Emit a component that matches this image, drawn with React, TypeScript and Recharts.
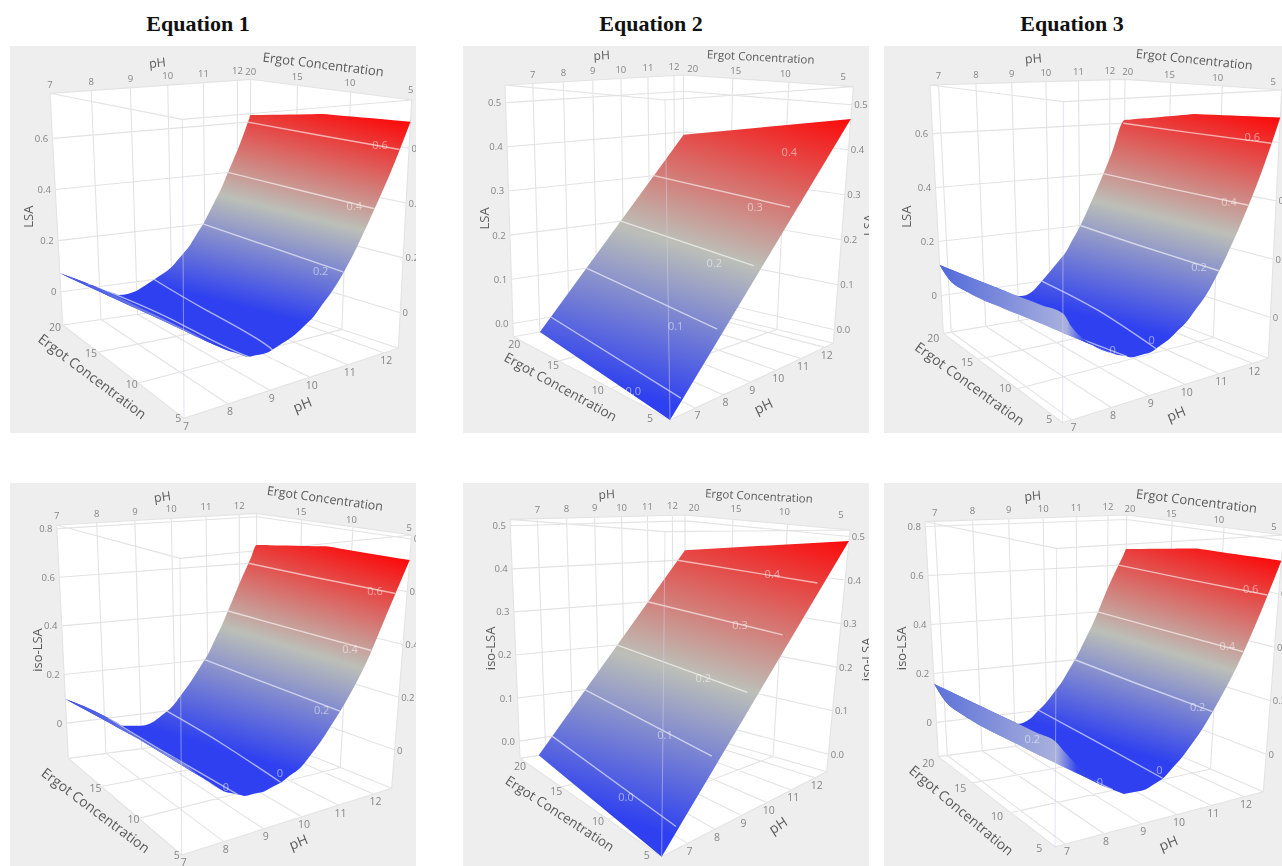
import type { ReactNode } from 'react';
import { Area, ComposedChart, Line, Scatter, XAxis, YAxis } from 'recharts';

/* values: response at ergot 5 / 12.5 / 20 over pH */
const phTicks = [7, 8, 9, 10, 11, 12];
const ergotTicks = [5, 10, 15, 20];
const ticksToSix = [0, 0.2, 0.4, 0.6];
const ticksToEight = [0, 0.2, 0.4, 0.6, 0.8];
const ticksToFive = [0, 0.1, 0.2, 0.3, 0.4, 0.5];

const lsa1Ph = [7, 7.5, 8, 8.5, 9, 9.5, 10, 10.5, 11, 11.5, 12, 12.4];
const lsa1E5 = [0.137, 0.085, 0.037, -0.002, -0.002, 0.022, 0.065, 0.14, 0.245, 0.385, 0.545, 0.697];
const lsa1E12 = [0.105, 0.06, 0.018, -0.012, -0.014, 0.012, 0.055, 0.125, 0.228, 0.36, 0.52, 0.677];
const lsa1E20 = [0.072, 0.034, -0.006, -0.043, -0.036, 0, 0.04, 0.11, 0.21, 0.335, 0.487, 0.628];

const lsa2PhE5 = [6.13, 12.37];
const lsa2PhE20 = [7, 12.37];
const lsa2E5 = [-0.03, 0.468];
const lsa2E20 = [-0.03, 0.393];

const lsa3Ph = [6.78, 7, 7.5, 8, 8.5, 9, 9.5, 10, 10.5, 11, 11.5, 12, 12.5];
const lsa3E5 = [0.173, 0.127, 0.061, 0.022, -0.006, -0.008, 0.016, 0.059, 0.125, 0.225, 0.35, 0.5, 0.686];
const lsa3E12 = [0.143, 0.095, 0.033, -0.008, -0.03, -0.033, -0.01, 0.045, 0.12, 0.22, 0.345, 0.49, 0.667];
const lsa3E20 = [0.113, 0.059, 0, -0.043, -0.057, -0.054, -0.03, 0.03, 0.095, 0.195, 0.32, 0.46, 0.613];

const iso1Ph = [7, 7.5, 8, 8.5, 9, 9.5, 10, 10.5, 11, 11.5, 12, 12.54];
const iso1E5 = [0.157, 0.085, 0.022, -0.012, -0.016, 0.004, 0.043, 0.121, 0.22, 0.345, 0.52, 0.72];
const iso1E12 = [0.128, 0.072, 0.016, -0.026, -0.032, -0.012, 0.035, 0.118, 0.22, 0.352, 0.525, 0.72];
const iso1E20 = [0.099, 0.058, 0.01, -0.04, -0.049, -0.027, 0.028, 0.116, 0.219, 0.356, 0.515, 0.677];

const iso2PhE5 = [6.1, 12.52];
const iso2PhE20 = [6.75, 12.52];
const iso2E5 = [-0.04, 0.49];
const iso2E20 = [-0.04, 0.425];

const iso3Ph = [6.75, 7, 7.5, 8, 8.5, 9, 9.5, 10, 10.5, 11, 11.5, 12, 12.61];
const iso3E5 = [0.198, 0.154, 0.074, 0.016, -0.023, -0.026, -0.005, 0.05, 0.125, 0.225, 0.345, 0.5, 0.724];
const iso3E12 = [0.178, 0.12, 0.045, -0.012, -0.045, -0.047, -0.02, 0.045, 0.125, 0.225, 0.35, 0.505, 0.72];
const iso3E20 = [0.157, 0.087, 0.017, -0.037, -0.063, -0.066, -0.03, 0.03, 0.11, 0.215, 0.345, 0.5, 0.669];

type Pt = [number, number];
type Row = { ergot: number; ph: number[]; z: number[] };
type Tag = { x: number; y: number; text: string; rot?: number; size?: number; fill?: string; anchor?: string };

const K_PH = 0.88;
const K_ERGOT = 0.82;
const FONT = '"Open Sans", sans-serif';
const TICK = '#858585';
const TITLE = '#5a5a5a';
const GRID = '#e3e3e3';

// screen positions below are in units of 1/3 px relative to (crop.x, crop.y)
const panels: any[] = [
  {
    id: 'p1', rect: [10, 46, 406, 387], crop: [0, 40],
    F0: [552, 1135], F1: [547, 238], L0: [188, 855], L1: [150, 160], R0: [1195, 925], R1: [1235, 180], B0: [748, 775], B1: [752, 118],
    ph: [7, 12.4], zr: [-0.13, 0.776], zTicks: ticksToSix, decimals: 0, curve: 'monotone',
    floorErgot: [[-17, 0], [-23, 5]], topErgot: [[-3, -32], [0, -23]],
    rows: [{ ergot: 5, ph: lsa1Ph, z: lsa1E5 }, { ergot: 12.5, ph: lsa1Ph, z: lsa1E12 }, { ergot: 20, ph: lsa1Ph, z: lsa1E20 }],
    levels: [0, 0.2, 0.4, 0.6], closeZero: true, wing: 3, wingStops: ['#3f52e6', '#7f8ce2', '#3040ee'], wingX: [185, 560, 640],
    grad: [0.25, -60, 300, 620],
    marks: [['0.6', 1140, 312], ['0.4', 1063, 497], ['0.2', 962, 690], ['0', 270, 720]],
    titles: [['pH', 472, 68, -6, 12.5], ['Ergot Concentration', 970, 72, 7, 13], ['LSA', 85, 530, -90, 13], ['Ergot Concentration', 278, 1008, 37, 14], ['pH', 907, 1092, -22, 14]],
  },
  {
    id: 'p2', rect: [463, 46, 406, 387], crop: [455, 40],
    F0: [645, 1140], F1: [630, 180], L0: [175, 890], L1: [150, 135], R0: [1135, 910], R1: [1195, 140], B0: [688, 800], B1: [685, 105],
    ph: [6.13, 12.37], zr: [-0.03, 0.54], zTicks: ticksToFive, decimals: 1, curve: 'linear',
    floorErgot: [[-60, -5], [3, 23]], topErgot: [[-30, -30], [28, -20]],
    rows: [{ ergot: 5, ph: lsa2PhE5, z: lsa2E5 }, { ergot: 20, ph: lsa2PhE20, z: lsa2E20 }],
    levels: [0, 0.1, 0.2, 0.3, 0.4],
    grad: [0.3, -120, 410, 900],
    marks: [['0.4', 1003, 333], ['0.3', 900, 498], ['0.2', 778, 668], ['0.1', 662, 855], ['0.0', 535, 1050]],
    titles: [['pH', 440, 45, -3, 12], ['Ergot Concentration', 917, 50, 3, 11.5], ['LSA', 88, 535, -90, 13], ['Ergot Concentration', 317, 1040, 29, 13.5], ['pH', 925, 1097, -25, 14], ['LSA', 1240, 555, -90, 13]],
  },
  {
    id: 'p3', rect: [884, 46, 398, 387], crop: [880, 40],
    F0: [548, 1148], F1: [550, 185], L0: [190, 880], L1: [150, 135], R0: [1165, 955], R1: [1205, 150], B0: [730, 790], B1: [735, 118],
    ph: [6.78, 12.5], zr: [-0.14, 0.78], zTicks: ticksToSix, decimals: 0, curve: 'monotone',
    floorErgot: [[-40, -10], [-30, 15]], topErgot: [[-25, -25], [8, -23]],
    rows: [{ ergot: 5, ph: lsa3Ph, z: lsa3E5 }, { ergot: 12.5, ph: lsa3Ph, z: lsa3E12 }, { ergot: 20, ph: lsa3Ph, z: lsa3E20 }],
    levels: [0, 0.2, 0.4, 0.6], wing: 4, wingStops: ['#4f68da', '#a9b0dd', '#3346ee'], wingX: [170, 560, 615],
    grad: [0.25, -67, 322, 675],
    marks: [['0.6', 1117, 290], ['0.4', 1047, 483], ['0.2', 957, 680], ['0', 815, 897], ['0', 698, 928]],
    titles: [['pH', 460, 55, -5, 12.5], ['Ergot Concentration', 943, 58, 6, 12.5], ['LSA', 78, 530, -90, 13], ['Ergot Concentration', 270, 1030, 36, 14], ['pH', 888, 1120, -22, 14]],
  },
  {
    id: 'p4', rect: [10, 483, 406, 383], crop: [0, 470],
    F0: [545, 1155], F1: [540, 265], L0: [205, 865], L1: [170, 165], R0: [1175, 955], R1: [1235, 195], B0: [768, 790], B1: [770, 130],
    ph: [7, 12.54], zr: [-0.145, 0.815], zTicks: ticksToEight, decimals: 0, skipErgot: 20, curve: 'monotone',
    floorErgot: [[-15, 0], [-18, 5]], topErgot: [[-7, -23], [0, -23]],
    rows: [{ ergot: 5, ph: iso1Ph, z: iso1E5 }, { ergot: 12.5, ph: iso1Ph, z: iso1E12 }, { ergot: 20, ph: iso1Ph, z: iso1E20 }],
    levels: [0, 0.2, 0.4, 0.6], wing: 3, wingStops: ['#3f52e6', '#7f8ce2', '#3040ee'], wingX: [200, 540, 640],
    grad: [0.3, -97, 270, 640],
    marks: [['0.6', 1125, 362], ['0.4', 1050, 535], ['0.2', 965, 717], ['0', 840, 907], ['0', 678, 950]],
    titles: [['pH', 487, 80, -8, 12.5], ['Ergot Concentration', 975, 85, 8, 12.5], ['iso-LSA', 110, 540, -90, 13], ['Ergot Concentration', 288, 1020, 37, 14], ['pH', 895, 1115, -22, 14]],
  },
  {
    id: 'p5', rect: [463, 483, 406, 383], crop: [455, 470],
    F0: [620, 1160], F1: [630, 185], L0: [195, 865], L1: [165, 148], R0: [1115, 905], R1: [1185, 180], B0: [690, 785], B1: [690, 135],
    ph: [6.1, 12.52], zr: [-0.04, 0.515], zTicks: ticksToFive, decimals: 1, curve: 'linear',
    floorErgot: [[-45, -5], [0, 23]], topErgot: [[-27, -48], [27, -23]],
    rows: [{ ergot: 5, ph: iso2PhE5, z: iso2E5 }, { ergot: 20, ph: iso2PhE20, z: iso2E20 }],
    levels: [0, 0.1, 0.2, 0.3, 0.4],
    grad: [0.3, -143, 400, 900],
    marks: [['0.4', 952, 310], ['0.3', 855, 462], ['0.2', 745, 622], ['0.1', 630, 792], ['0.0', 513, 978]],
    titles: [['pH', 455, 72, -3, 12], ['Ergot Concentration', 912, 77, 3, 11.5], ['iso-LSA', 105, 535, -90, 13], ['Ergot Concentration', 315, 1030, 33, 13.5], ['pH', 968, 1065, -33, 14], ['iso-LSA', 1232, 568, -90, 13]],
  },
  {
    id: 'p6', rect: [884, 483, 398, 383], crop: [880, 470],
    F0: [525, 1130], F1: [530, 235], L0: [175, 860], L1: [135, 155], R0: [1150, 965], R1: [1210, 195], B0: [732, 785], B1: [740, 135],
    ph: [6.75, 12.61], zr: [-0.14, 0.82], zTicks: ticksToEight, decimals: 0, curve: 'monotone',
    floorErgot: [[-47, 5], [-30, 20]], topErgot: [[-28, -27], [10, -20]],
    rows: [{ ergot: 5, ph: iso3Ph, z: iso3E5 }, { ergot: 12.5, ph: iso3Ph, z: iso3E12 }, { ergot: 20, ph: iso3Ph, z: iso3E20 }],
    levels: [0, 0.2, 0.4, 0.6], wing: 4, wingStops: ['#5a70d8', '#aab1dc', '#3346ee'], wingX: [155, 530, 590],
    grad: [0.3, -90, 285, 620],
    marks: [['0.6', 1112, 355], ['0.4', 1042, 527], ['0.2', 953, 708], ['0', 838, 897], ['0', 660, 935], ['0.2', 457, 805]],
    titles: [['pH', 458, 77, -5, 12.5], ['Ergot Concentration', 950, 92, 7, 13], ['iso-LSA', 62, 535, -90, 13], ['Ergot Concentration', 245, 1020, 40, 14], ['pH', 865, 1118, -22, 14]],
  },
];

const persp = (t: number, k: number) => t / (t + (1 - t) * k);
const mix = (a: Pt, b: Pt, t: number): Pt => [a[0] + (b[0] - a[0]) * t, a[1] + (b[1] - a[1]) * t];

function projector(p: any) {
  return (ph: number, ergot: number, z: number): Pt => {
    const u = persp((ph - p.ph[0]) / (p.ph[1] - p.ph[0]), K_PH);
    const v = persp((ergot - 5) / 15, K_ERGOT);
    const w = (z - p.zr[0]) / (p.zr[1] - p.zr[0]);
    const floor = mix(mix(p.F0, p.R0, u), mix(p.L0, p.B0, u), v);
    const roof = mix(mix(p.F1, p.R1, u), mix(p.L1, p.B1, u), v);
    return mix(floor, roof, w);
  };
}

// upper and lower envelope of a set of screen segments, as an Area range series
function hull(edges: [Pt, Pt][]) {
  const xs = new Set<number>();
  edges.forEach(([a, b]) => {
    xs.add(a[0]);
    xs.add(b[0]);
  });
  return [...xs]
    .sort((a, b) => a - b)
    .map((x) => {
      let top = Infinity;
      let bottom = -Infinity;
      edges.forEach(([a, b]) => {
        const x0 = Math.min(a[0], b[0]);
        const x1 = Math.max(a[0], b[0]);
        if (x < x0 || x > x1) return;
        const y = x1 === x0 ? a[1] : a[1] + ((b[1] - a[1]) * (x - a[0])) / (b[0] - a[0]);
        top = Math.min(top, y);
        bottom = Math.max(bottom, y);
      });
      return { x, range: [top, bottom] };
    });
}

function meshEdges(rows: Row[], project: (a: number, b: number, c: number) => Pt, count?: number) {
  const edges: [Pt, Pt][] = [];
  const pts = rows.map((r) => r.ph.slice(0, count ?? r.ph.length).map((ph, i) => project(ph, r.ergot, r.z[i])));
  pts.forEach((line, r) => {
    line.forEach((pt, i) => {
      if (i > 0) edges.push([line[i - 1], pt]);
      if (r > 0) edges.push([pts[r - 1][i], pt]);
    });
  });
  return edges;
}

// turn [[a, b], [c, d]] polylines into one series with gaps
function withGaps(lines: Pt[][]) {
  const out: { x: number; y: number | null }[] = [];
  lines.forEach((line) => {
    line.forEach(([x, y]) => out.push({ x, y }));
    const last = line[line.length - 1];
    if (last) out.push({ x: last[0], y: null });
  });
  return out;
}

function crossing(r: Row, level: number, fromRight: boolean) {
  const idx = r.ph.map((_, i) => i).slice(0, -1);
  if (fromRight) idx.reverse();
  for (const i of idx) {
    const a = r.z[i] - level;
    const b = r.z[i + 1] - level;
    if (a * b <= 0 && a !== b) return r.ph[i] + ((r.ph[i + 1] - r.ph[i]) * a) / (a - b);
  }
  return null;
}

function contours(p: any, project: (a: number, b: number, c: number) => Pt) {
  const lines: Pt[][] = [];
  p.levels.forEach((level: number) => {
    const right: Pt[] = [];
    const left: Pt[] = [];
    p.rows.forEach((r: Row) => {
      const hiPh = crossing(r, level, true);
      const loPh = crossing(r, level, false);
      if (hiPh !== null) right.push(project(hiPh, r.ergot, level));
      if (loPh !== null && hiPh !== null && hiPh - loPh > 0.01) left.push(project(loPh, r.ergot, level));
    });
    if (level === 0 && p.closeZero) lines.push([...right.slice().reverse(), ...left]);
    else {
      lines.push(right);
      if (left.length > 1) lines.push(left);
    }
  });
  return lines;
}

function TagMark(props: any) {
  const { cx, cy, payload } = props;
  const t: Tag = payload;
  return (
    <text
      x={cx}
      y={cy}
      textAnchor={(t.anchor as any) ?? 'middle'}
      dominantBaseline="central"
      fontFamily={FONT}
      fontSize={t.size ?? 9.5}
      fill={t.fill ?? TICK}
      transform={t.rot ? `rotate(${t.rot} ${cx} ${cy})` : undefined}
    >
      {t.text}
    </text>
  );
}

// one transparent chart per depth level, so the surface can hide the wall grid
function Layer({ w, h, xDomain, yDomain, children }: { w: number; h: number; xDomain: number[]; yDomain: number[]; children: ReactNode }) {
  return (
    <div style={{ position: 'absolute', left: 0, top: 0 }}>
      <ComposedChart width={w} height={h} margin={{ top: 0, right: 0, bottom: 0, left: 0 }}>
        <XAxis type="number" dataKey="x" domain={xDomain} allowDataOverflow hide />
        <YAxis type="number" dataKey="y" domain={yDomain} allowDataOverflow reversed hide />
        {children}
      </ComposedChart>
    </div>
  );
}

function SurfacePanel({ p }: { p: any }) {
  const [left, top, width, height] = p.rect;
  const xDomain = [(left - p.crop[0]) * 3, (left - p.crop[0] + width) * 3];
  const yDomain = [(top - p.crop[1]) * 3, (top - p.crop[1] + height) * 3];
  const project = projector(p);
  const [ph0, ph1] = p.ph;
  const [z0, z1] = p.zr;

  const box = hull([
    [p.L1, p.B1], [p.B1, p.R1], [p.R1, p.R0], [p.R0, p.F0], [p.F0, p.L0], [p.L0, p.L1],
  ]);

  const grid: Pt[][] = [];
  phTicks.forEach((ph) => {
    grid.push([project(ph, 20, z0), project(ph, 20, z1)]);
    grid.push([project(ph, 5, z0), project(ph, 20, z0)]);
  });
  ergotTicks.forEach((e) => {
    grid.push([project(ph1, e, z0), project(ph1, e, z1)]);
    grid.push([project(ph0, e, z0), project(ph1, e, z0)]);
  });
  p.zTicks.forEach((z: number) => {
    grid.push([project(ph0, 20, z), project(ph1, 20, z), project(ph1, 5, z)]);
  });
  grid.push([p.L1, p.B1, p.R1, p.F1, p.L1], [p.L0, p.B0, p.R0], [p.B0, p.B1], [p.L0, p.L1], [p.R0, p.R1], [p.L0, p.F0, p.R0]);

  const surface = hull(meshEdges(p.rows, project));
  const wing = p.wing ? hull(meshEdges(p.rows, project, p.wing)) : null;
  const lines = contours(p, project);

  // gradient runs across the colour bands, which tilt with the contours
  const [slope, vRed, vGrey, vBlue] = p.grad;
  const at = (v: number): Pt => {
    const d = (v - vRed) / (1 + slope * slope);
    return [(-slope * d - xDomain[0]) / 3, (vRed + d - yDomain[0]) / 3];
  };
  const [gx1, gy1] = at(vRed);
  const [gx2, gy2] = at(vBlue);

  const tags: Tag[] = [];
  const offset = (pt: Pt, dx: number, dy: number) => ({ x: pt[0] + dx, y: pt[1] + dy });
  const fmt = (z: number) => (p.decimals ? z.toFixed(1) : String(z));
  phTicks.forEach((ph) => {
    tags.push({ ...offset(project(ph, 20, z1), 0, -28), text: String(ph) });
    tags.push({ ...offset(project(ph, 5, z0), 6, 22), text: String(ph), size: 10.5 });
  });
  ergotTicks.forEach((e) => {
    if (e === p.skipErgot) return;
    const f = (e - 5) / 15;
    const [tx, ty] = mix(p.topErgot[0], p.topErgot[1], f);
    const [fx, fy] = mix(p.floorErgot[0], p.floorErgot[1], f);
    tags.push({ ...offset(project(ph1, e, z1), tx, ty), text: String(e) });
    tags.push({ ...offset(project(ph0, e, z0), fx, fy), text: String(e), size: 10.5 });
  });
  p.zTicks.forEach((z: number) => {
    tags.push({ ...offset(project(ph0, 20, z), -13, 0), text: fmt(z), anchor: 'end' });
    tags.push({ ...offset(project(ph1, 5, z), 7, 0), text: fmt(z), anchor: 'start' });
  });
  p.titles.forEach(([text, x, y, rot, size]: any) => tags.push({ x, y, text, rot, size, fill: TITLE }));
  p.marks.forEach(([text, x, y]: any) => tags.push({ x, y, text, size: 11, fill: 'rgba(255,255,255,0.5)' }));

  const axes = { w: width, h: height, xDomain, yDomain };
  const plain = { dot: false, activeDot: false, isAnimationActive: false } as const;

  return (
    <div style={{ position: 'absolute', left, top, width, height, overflow: 'hidden', background: '#eeeeee', filter: 'blur(0.4px)' }}>
      <Layer {...axes}>
        <Area data={box} dataKey="range" stroke="none" fill="#ffffff" fillOpacity={1} {...plain} />
        <Line data={withGaps(grid)} dataKey="y" stroke={GRID} strokeWidth={1.1} {...plain} />
      </Layer>
      <Layer {...axes}>
        <defs>
          <linearGradient id={`${p.id}-fill`} gradientUnits="userSpaceOnUse" x1={gx1} y1={gy1} x2={gx2} y2={gy2}>
            <stop offset={0} stopColor="#fb0a0a" />
            <stop offset={(vGrey - vRed) / (vBlue - vRed)} stopColor="#bcbfb8" />
            <stop offset={1} stopColor="#2e40f0" />
          </linearGradient>
        </defs>
        <Area data={surface} type={p.curve} dataKey="range" stroke="none" fill={`url(#${p.id}-fill)`} fillOpacity={1} {...plain} />
        <Line data={withGaps(lines)} type="natural" dataKey="y" stroke="rgba(255,255,255,0.6)" strokeWidth={1.4} {...plain} />
      </Layer>
      <Layer {...axes}>
        {p.wing && (
          <defs>
            <linearGradient
              id={`${p.id}-wing`}
              gradientUnits="userSpaceOnUse"
              x1={(p.wingX[0] - xDomain[0]) / 3}
              y1={0}
              x2={(p.wingX[2] - xDomain[0]) / 3}
              y2={0}
            >
              <stop offset={0} stopColor={p.wingStops[0]} />
              <stop offset={(p.wingX[1] - p.wingX[0]) / (p.wingX[2] - p.wingX[0])} stopColor={p.wingStops[1]} />
              <stop offset={1} stopColor={p.wingStops[2]} />
            </linearGradient>
          </defs>
        )}
        {wing && <Area data={wing} type={p.curve} dataKey="range" stroke="none" fill={`url(#${p.id}-wing)`} fillOpacity={1} {...plain} />}
        <Line data={withGaps([[p.F0, p.F1]])} dataKey="y" stroke="rgba(205,205,225,0.55)" strokeWidth={1} {...plain} />
        <Scatter data={tags} shape={TagMark} isAnimationActive={false} />
      </Layer>
    </div>
  );
}

const headings = [
  { text: 'Equation 1', x: 198 },
  { text: 'Equation 2', x: 651 },
  { text: 'Equation 3', x: 1072 },
];

export default function App() {
  return (
    <div style={{ position: 'absolute', left: 0, top: 0, width: 1282, height: 866, overflow: 'hidden', background: '#ffffff' }}>
      {headings.map((h) => (
        <div
          key={h.text}
          style={{
            position: 'absolute',
            left: h.x - 100,
            width: 200,
            top: 12,
            textAlign: 'center',
            fontFamily: '"Liberation Serif", serif',
            fontWeight: 700,
            fontSize: 22,
            lineHeight: '24px',
            color: '#111111',
          }}
        >
          {h.text}
        </div>
      ))}
      {panels.map((p) => (
        <SurfacePanel key={p.id} p={p} />
      ))}
    </div>
  );
}
